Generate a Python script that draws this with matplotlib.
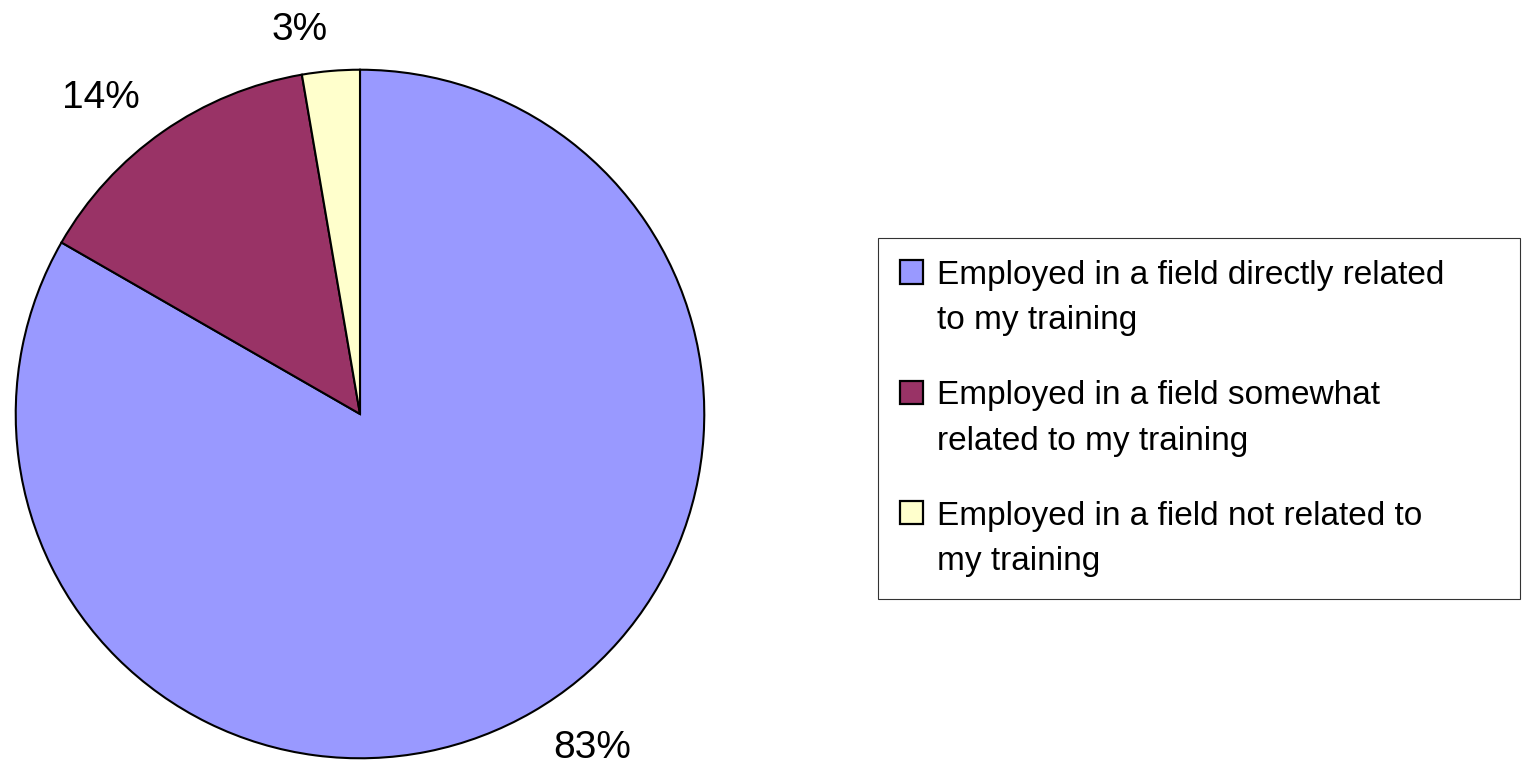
import matplotlib.pyplot as plt
from matplotlib.patches import Rectangle, Wedge
from matplotlib.legend_handler import HandlerPatch

labels = ["Employed in a field directly related\nto my training",
          "Employed in a field somewhat\nrelated to my training",
          "Employed in a field not related to\nmy training"]
values = [83.3, 14.0, 2.7]
colors = ["#9999FF", "#993366", "#FFFFCC"]
pct_labels = [f"{v:.0f}%" for v in values]

plt.rcParams['font.family'] = ['Liberation Sans', 'DejaVu Sans']

fig = plt.figure(figsize=(15.31, 7.74), dpi=100)
ax = fig.add_axes([14 / 1531, 14 / 774, 692 / 1531, 692 / 774])

wedges, texts = ax.pie(values, colors=colors, startangle=90, counterclock=False,
                       labels=pct_labels, labeldistance=1.12, radius=1,
                       wedgeprops=dict(edgecolor='black', linewidth=1.5),
                       textprops=dict(fontsize=28))
ax.set_xlim(-1.005, 1.005)
ax.set_ylim(-1.005, 1.005)
ax.set_aspect('equal')

fs = 24
line_sp = 1.6


# square marker next to the first line of each two-line entry
def top_square(legend, orig_handle, xdescent, ydescent, width, height, fontsize):
    return Rectangle((-xdescent, -ydescent + 0.5 * line_sp * fontsize), width, height)


leg = fig.legend(wedges, labels, loc='upper left',
                 bbox_to_anchor=(878 / 1531, 1 - 238 / 774, 642 / 1531, 0), mode='expand',
                 fontsize=fs, frameon=True, fancybox=False, edgecolor='black',
                 handlelength=0.7, handleheight=0.7, handletextpad=0.42,
                 labelspacing=1.32, borderpad=0.66, borderaxespad=0,
                 handler_map={Wedge: HandlerPatch(patch_func=top_square)})
leg.get_frame().set_linewidth(0.8)
for t in leg.get_texts():
    t.set_linespacing(line_sp)
for h in leg.legend_handles:
    h.set_linewidth(1.6)

fig.savefig("out.png", dpi=100)
